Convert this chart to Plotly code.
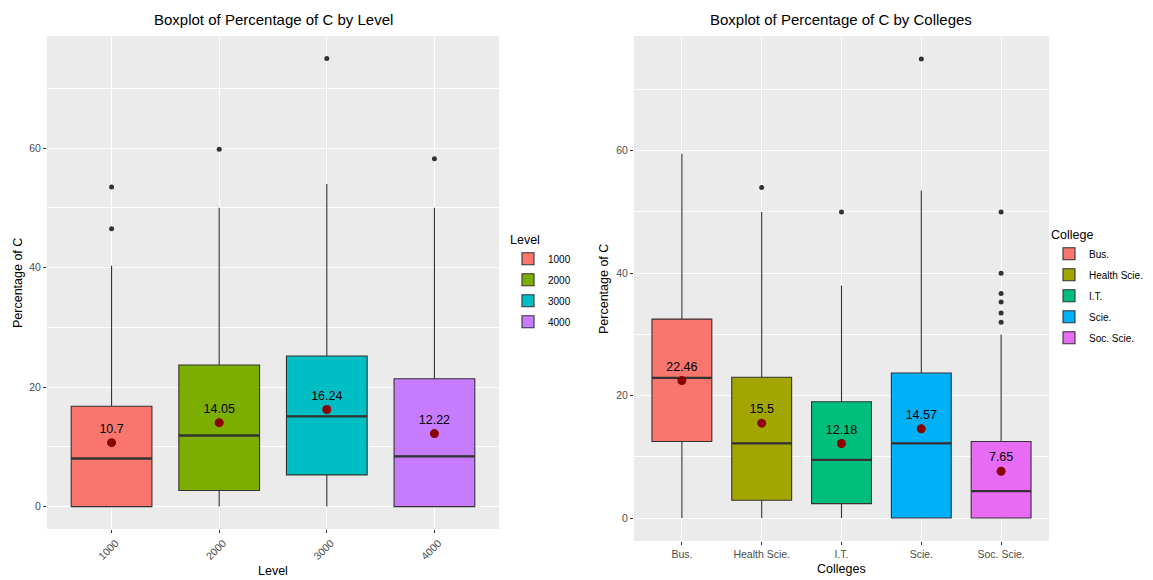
import plotly.graph_objects as go

# ---------------- data ----------------
levels = ["1000", "2000", "3000", "4000"]
lvl_q1 = [0.0, 2.7, 5.3, 0.0]
lvl_med = [8.05, 11.9, 15.1, 8.4]
lvl_q3 = [16.8, 23.7, 25.2, 21.4]
lvl_lo = [0.0, 0.0, 0.0, 0.0]
lvl_hi = [40.3, 50.0, 54.0, 50.0]
lvl_mean = [10.7, 14.05, 16.24, 12.22]
lvl_out = [[53.5, 46.5], [59.8], [75.0], [58.2]]
lvl_colors = ["#F8766D", "#7CAE00", "#00BFC4", "#C77CFF"]

colleges = ["Bus.", "Health Scie.", "I.T.", "Scie.", "Soc. Scie."]
col_q1 = [12.5, 2.9, 2.35, 0.0, 0.0]
col_med = [22.9, 12.2, 9.5, 12.2, 4.4]
col_q3 = [32.5, 23.0, 19.0, 23.7, 12.5]
col_lo = [0.0, 0.0, 0.0, 0.0, 0.0]
col_hi = [59.5, 50.0, 38.0, 53.5, 30.0]
col_mean = [22.46, 15.5, 12.18, 14.57, 7.65]
col_out = [[], [54.0], [50.0], [75.0], [32.0, 33.5, 35.3, 36.7, 40.0, 50.0]]
col_colors = ["#F8766D", "#A3A500", "#00BF7D", "#00B0F6", "#E76BF3"]

y_ticks = [0, 20, 40, 60]
y_minor = [10, 30, 50, 70]

# page is rendered with the browser's default 8px body margin
OFF = 8
W, H = 1153 - OFF, 580 - OFF
FONT = "Liberation Sans, Arial, sans-serif"
EDGE = "#333333"
BOXW = 0.75


def px(x):
    return (x - OFF) / W


def py(y):
    return 1 - (y - OFF) / H


fig = go.Figure()


def add_panel(cats, q1, med, q3, lo, hi, means, outs, colors, xa, ya, leg):
    for i, c in enumerate(cats):
        xi = i + 1
        fig.add_trace(go.Box(
            x=[xi], q1=[q1[i]], median=[med[i]], q3=[q3[i]],
            lowerfence=[lo[i]], upperfence=[hi[i]],
            width=BOXW, whiskerwidth=0, boxpoints=False,
            fillcolor=colors[i], line=dict(color=EDGE, width=1.1),
            name=c, legend=leg, legendgroup=f"{leg}_{i}",
            xaxis=xa, yaxis=ya, hoverinfo="skip"))
    for i, c in enumerate(cats):
        xi = i + 1
        fig.add_trace(go.Scatter(
            x=[xi - BOXW / 2, xi + BOXW / 2], y=[med[i], med[i]],
            mode="lines", line=dict(color=EDGE, width=2.4),
            showlegend=False, xaxis=xa, yaxis=ya, hoverinfo="skip"))
        if outs[i]:
            fig.add_trace(go.Scatter(
                x=[xi] * len(outs[i]), y=outs[i], mode="markers",
                marker=dict(color=EDGE, size=5), showlegend=False,
                xaxis=xa, yaxis=ya, hoverinfo="skip"))
    fig.add_trace(go.Scatter(
        x=list(range(1, len(cats) + 1)), y=means, mode="markers+text",
        marker=dict(color="#8B0000", size=9),
        text=[f"{m:g}" for m in means], textposition="top center",
        textfont=dict(family=FONT, size=12.5, color="black"),
        showlegend=False, xaxis=xa, yaxis=ya, hoverinfo="skip"))


add_panel(levels, lvl_q1, lvl_med, lvl_q3, lvl_lo, lvl_hi, lvl_mean, lvl_out,
          lvl_colors, "x", "y", "legend")
add_panel(colleges, col_q1, col_med, col_q3, col_lo, col_hi, col_mean, col_out,
          col_colors, "x2", "y2", "legend2")

tickfont = dict(family=FONT, size=10.5, color="#4D4D4D")


def xaxis(dom, cats, anchor, angle, shift=0):
    return dict(domain=dom, anchor=anchor, range=[0.4, len(cats) + 0.6],
                tickvals=list(range(1, len(cats) + 1)), ticktext=cats,
                tickangle=angle, ticklabelshift=shift,
                showgrid=True, gridcolor="white", gridwidth=1.1,
                zeroline=False, showline=False, ticks="outside", ticklen=3,
                tickcolor=EDGE, tickfont=tickfont, fixedrange=True, automargin=False)


def yaxis(dom, anchor):
    return dict(domain=dom, anchor=anchor, range=[-3.75, 78.75],
                tickvals=y_ticks, ticktext=[str(t) for t in y_ticks],
                showgrid=True, gridcolor="white", gridwidth=1.1,
                minor=dict(tickvals=y_minor, showgrid=True, gridcolor="white",
                           gridwidth=0.5, ticks=""),
                zeroline=False, showline=False, ticks="outside", ticklen=3,
                tickcolor=EDGE, tickfont=tickfont, fixedrange=True, automargin=False)


Lx0, Lx1 = px(47), px(499)
Rx0, Rx1 = px(634), px(1049)
top = py(36)
Lyb = py(529)
Ryb = py(541)

legfont = dict(family=FONT, size=10)
legtitle = dict(family=FONT, size=12.5)

fig.update_layout(
    width=W, height=H,
    margin=dict(l=0, r=0, t=0, b=0, autoexpand=False),
    paper_bgcolor="white", plot_bgcolor="#EBEBEB",
    boxmode="overlay",
    font=dict(family=FONT, color="black"),
    xaxis=xaxis([Lx0, Lx1], levels, "y", -45, 4),
    yaxis=yaxis([Lyb, top], "x"),
    xaxis2=xaxis([Rx0, Rx1], colleges, "y2", 0),
    yaxis2=yaxis([Ryb, top], "x2"),
    legend=dict(title=dict(text="Level", font=legtitle),
                x=px(508), y=py(228), xanchor="left", yanchor="top",
                font=legfont, bgcolor="rgba(0,0,0,0)",
                tracegroupgap=2, itemwidth=30),
    legend2=dict(title=dict(text="College", font=legtitle),
                 x=px(1049), y=py(223), xanchor="left", yanchor="top",
                 font=legfont, bgcolor="rgba(0,0,0,0)",
                 tracegroupgap=2, itemwidth=30),
    showlegend=True,
)

ann = [
    dict(text="Boxplot of Percentage of C by Level", x=(Lx0 + Lx1) / 2, y=py(20),
         font=dict(size=15)),
    dict(text="Boxplot of Percentage of C by Colleges", x=(Rx0 + Rx1) / 2, y=py(20),
         font=dict(size=15)),
    dict(text="Level", x=(Lx0 + Lx1) / 2, y=py(571), font=dict(size=12.5)),
    dict(text="Colleges", x=(Rx0 + Rx1) / 2, y=py(569), font=dict(size=12.5)),
    dict(text="Percentage of C", x=px(18), y=py(283), textangle=-90,
         font=dict(size=12.5)),
    dict(text="Percentage of C", x=px(604), y=py(289), textangle=-90,
         font=dict(size=12.5)),
]
for a in ann:
    fig.add_annotation(xref="paper", yref="paper", showarrow=False,
                       xanchor="center", yanchor="middle", **a)

fig.write_html("out.html")
